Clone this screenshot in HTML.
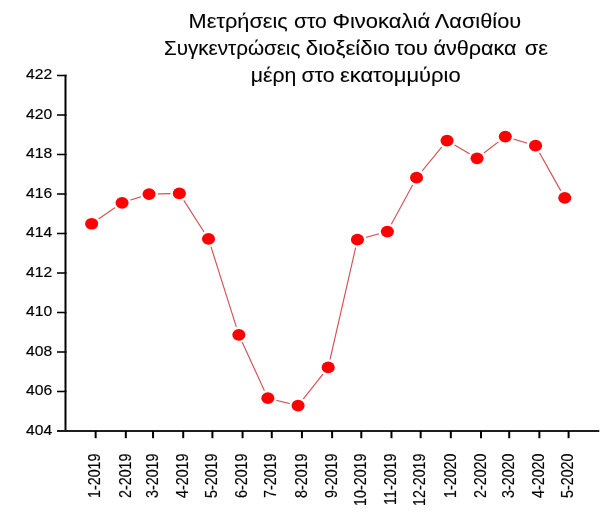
<!DOCTYPE html>
<html><head><meta charset="utf-8"><style>
html,body{margin:0;padding:0;background:#fff;}
svg{display:block;will-change:transform;}
text{font-family:"Liberation Sans",sans-serif;}
</style></head><body>
<svg width="602" height="513" viewBox="0 0 602 513">
<rect x="0" y="0" width="602" height="513" fill="#fff"/>

<g fill="#000" font-size="20" stroke="#000" stroke-width="0.1">
<text x="188.63" y="27.8" textLength="99.23" lengthAdjust="spacingAndGlyphs">Μετρήσεις</text>
<text x="293.94" y="27.8" textLength="32.92" lengthAdjust="spacingAndGlyphs">στο</text>
<text x="332.40" y="27.8" textLength="97.75" lengthAdjust="spacingAndGlyphs">Φινοκαλιά</text>
<text x="434.80" y="27.8" textLength="86.36" lengthAdjust="spacingAndGlyphs">Λασιθίου</text>
<text x="163.97" y="55.1" textLength="136.40" lengthAdjust="spacingAndGlyphs">Συγκεντρώσεις</text>
<text x="305.79" y="55.1" textLength="84.21" lengthAdjust="spacingAndGlyphs">διοξείδιο</text>
<text x="395.00" y="55.1" textLength="32.86" lengthAdjust="spacingAndGlyphs">του</text>
<text x="433.42" y="55.1" textLength="83.01" lengthAdjust="spacingAndGlyphs">άνθρακα</text>
<text x="524.81" y="55.1" textLength="23.17" lengthAdjust="spacingAndGlyphs">σε</text>
<text x="250.74" y="81.5" textLength="45.57" lengthAdjust="spacingAndGlyphs">μέρη</text>
<text x="301.53" y="81.5" textLength="33.13" lengthAdjust="spacingAndGlyphs">στο</text>
<text x="339.90" y="81.5" textLength="120.80" lengthAdjust="spacingAndGlyphs">εκατομμύριο</text>
</g>
<g stroke="#000" fill="none">
<line x1="65.5" y1="74.7" x2="65.5" y2="432" stroke-width="2"/>
<line x1="57" y1="431" x2="599.3" y2="431" stroke-width="2" stroke="#1e1e1e"/>
<line x1="57" y1="75.50" x2="66.50" y2="75.50" stroke-width="1.55"/>
<line x1="57" y1="115.00" x2="66.50" y2="115.00" stroke-width="1.55"/>
<line x1="57" y1="154.50" x2="66.50" y2="154.50" stroke-width="1.55"/>
<line x1="57" y1="194.00" x2="66.50" y2="194.00" stroke-width="1.55"/>
<line x1="57" y1="233.50" x2="66.50" y2="233.50" stroke-width="1.55"/>
<line x1="57" y1="273.00" x2="66.50" y2="273.00" stroke-width="1.55"/>
<line x1="57" y1="312.50" x2="66.50" y2="312.50" stroke-width="1.55"/>
<line x1="57" y1="352.00" x2="66.50" y2="352.00" stroke-width="1.55"/>
<line x1="57" y1="391.50" x2="66.50" y2="391.50" stroke-width="1.55"/>
<line x1="95.64" y1="431" x2="95.64" y2="438.2" stroke-width="2"/>
<line x1="125.81" y1="431" x2="125.81" y2="438.2" stroke-width="2"/>
<line x1="153.05" y1="431" x2="153.05" y2="438.2" stroke-width="2"/>
<line x1="183.22" y1="431" x2="183.22" y2="438.2" stroke-width="2"/>
<line x1="212.41" y1="431" x2="212.41" y2="438.2" stroke-width="2"/>
<line x1="242.58" y1="431" x2="242.58" y2="438.2" stroke-width="2"/>
<line x1="271.77" y1="431" x2="271.77" y2="438.2" stroke-width="2"/>
<line x1="301.94" y1="431" x2="301.94" y2="438.2" stroke-width="2"/>
<line x1="332.11" y1="431" x2="332.11" y2="438.2" stroke-width="2"/>
<line x1="361.30" y1="431" x2="361.30" y2="438.2" stroke-width="2"/>
<line x1="391.47" y1="431" x2="391.47" y2="438.2" stroke-width="2"/>
<line x1="420.66" y1="431" x2="420.66" y2="438.2" stroke-width="2"/>
<line x1="450.83" y1="431" x2="450.83" y2="438.2" stroke-width="2"/>
<line x1="481.00" y1="431" x2="481.00" y2="438.2" stroke-width="2"/>
<line x1="509.22" y1="431" x2="509.22" y2="438.2" stroke-width="2"/>
<line x1="539.38" y1="431" x2="539.38" y2="438.2" stroke-width="2"/>
<line x1="568.58" y1="431" x2="568.58" y2="438.2" stroke-width="2"/>
</g>
<g fill="#000" font-size="14" stroke="#000" stroke-width="0.15">
<text transform="translate(52.1 79.00) scale(1.12 1)" text-anchor="end">422</text>
<text transform="translate(52.1 118.50) scale(1.12 1)" text-anchor="end">420</text>
<text transform="translate(52.1 158.00) scale(1.12 1)" text-anchor="end">418</text>
<text transform="translate(52.1 197.50) scale(1.12 1)" text-anchor="end">416</text>
<text transform="translate(52.1 237.00) scale(1.12 1)" text-anchor="end">414</text>
<text transform="translate(52.1 276.50) scale(1.12 1)" text-anchor="end">412</text>
<text transform="translate(52.1 316.00) scale(1.12 1)" text-anchor="end">410</text>
<text transform="translate(52.1 355.50) scale(1.12 1)" text-anchor="end">408</text>
<text transform="translate(52.1 395.00) scale(1.12 1)" text-anchor="end">406</text>
<text transform="translate(52.1 434.50) scale(1.12 1)" text-anchor="end">404</text>
</g>
<g fill="#000" font-size="14.3" stroke="#000" stroke-width="0.15">
<text transform="translate(100.34 453.5) scale(1.11 1) rotate(-90)" text-anchor="end">1-2019</text>
<text transform="translate(130.51 453.5) scale(1.11 1) rotate(-90)" text-anchor="end">2-2019</text>
<text transform="translate(157.75 453.5) scale(1.11 1) rotate(-90)" text-anchor="end">3-2019</text>
<text transform="translate(187.92 453.5) scale(1.11 1) rotate(-90)" text-anchor="end">4-2019</text>
<text transform="translate(217.11 453.5) scale(1.11 1) rotate(-90)" text-anchor="end">5-2019</text>
<text transform="translate(247.28 453.5) scale(1.11 1) rotate(-90)" text-anchor="end">6-2019</text>
<text transform="translate(276.47 453.5) scale(1.11 1) rotate(-90)" text-anchor="end">7-2019</text>
<text transform="translate(306.64 453.5) scale(1.11 1) rotate(-90)" text-anchor="end">8-2019</text>
<text transform="translate(336.81 453.5) scale(1.11 1) rotate(-90)" text-anchor="end">9-2019</text>
<text transform="translate(366.00 453.5) scale(1.11 1) rotate(-90)" text-anchor="end">10-2019</text>
<text transform="translate(396.17 453.5) scale(1.11 1) rotate(-90)" text-anchor="end">11-2019</text>
<text transform="translate(425.36 453.5) scale(1.11 1) rotate(-90)" text-anchor="end">12-2019</text>
<text transform="translate(455.53 453.5) scale(1.11 1) rotate(-90)" text-anchor="end">1-2020</text>
<text transform="translate(485.70 453.5) scale(1.11 1) rotate(-90)" text-anchor="end">2-2020</text>
<text transform="translate(513.92 453.5) scale(1.11 1) rotate(-90)" text-anchor="end">3-2020</text>
<text transform="translate(544.08 453.5) scale(1.11 1) rotate(-90)" text-anchor="end">4-2020</text>
<text transform="translate(573.28 453.5) scale(1.11 1) rotate(-90)" text-anchor="end">5-2020</text>
</g>
<path d="M91.65 223.75 L122.05 202.80 L149.05 194.10 L179.35 193.40 L208.50 238.95 L238.85 334.80 L267.85 398.20 L298.10 405.60 L328.20 367.40 L357.45 239.70 L387.40 231.60 L416.55 177.70 L447.05 140.60 L477.05 158.30 L505.30 136.60 L535.55 145.70 L564.75 197.90" fill="none" stroke="#d25257" stroke-width="1.15"/>
<ellipse cx="91.65" cy="223.75" rx="8.9" ry="8.2" fill="#fff"/>
<ellipse cx="122.05" cy="202.8" rx="8.9" ry="8.2" fill="#fff"/>
<ellipse cx="149.05" cy="194.1" rx="8.9" ry="8.2" fill="#fff"/>
<ellipse cx="179.35" cy="193.4" rx="8.9" ry="8.2" fill="#fff"/>
<ellipse cx="208.5" cy="238.95" rx="8.9" ry="8.2" fill="#fff"/>
<ellipse cx="238.85" cy="334.8" rx="8.9" ry="8.2" fill="#fff"/>
<ellipse cx="267.85" cy="398.2" rx="8.9" ry="8.2" fill="#fff"/>
<ellipse cx="298.1" cy="405.6" rx="8.9" ry="8.2" fill="#fff"/>
<ellipse cx="328.2" cy="367.4" rx="8.9" ry="8.2" fill="#fff"/>
<ellipse cx="357.45" cy="239.7" rx="8.9" ry="8.2" fill="#fff"/>
<ellipse cx="387.4" cy="231.6" rx="8.9" ry="8.2" fill="#fff"/>
<ellipse cx="416.55" cy="177.7" rx="8.9" ry="8.2" fill="#fff"/>
<ellipse cx="447.05" cy="140.6" rx="8.9" ry="8.2" fill="#fff"/>
<ellipse cx="477.05" cy="158.3" rx="8.9" ry="8.2" fill="#fff"/>
<ellipse cx="505.3" cy="136.6" rx="8.9" ry="8.2" fill="#fff"/>
<ellipse cx="535.55" cy="145.7" rx="8.9" ry="8.2" fill="#fff"/>
<ellipse cx="564.75" cy="197.9" rx="8.9" ry="8.2" fill="#fff"/>
<ellipse cx="91.65" cy="223.75" rx="6.55" ry="5.85" fill="#ff0000"/>
<ellipse cx="122.05" cy="202.8" rx="6.55" ry="5.85" fill="#ff0000"/>
<ellipse cx="149.05" cy="194.1" rx="6.55" ry="5.85" fill="#ff0000"/>
<ellipse cx="179.35" cy="193.4" rx="6.55" ry="5.85" fill="#ff0000"/>
<ellipse cx="208.5" cy="238.95" rx="6.55" ry="5.85" fill="#ff0000"/>
<ellipse cx="238.85" cy="334.8" rx="6.55" ry="5.85" fill="#ff0000"/>
<ellipse cx="267.85" cy="398.2" rx="6.55" ry="5.85" fill="#ff0000"/>
<ellipse cx="298.1" cy="405.6" rx="6.55" ry="5.85" fill="#ff0000"/>
<ellipse cx="328.2" cy="367.4" rx="6.55" ry="5.85" fill="#ff0000"/>
<ellipse cx="357.45" cy="239.7" rx="6.55" ry="5.85" fill="#ff0000"/>
<ellipse cx="387.4" cy="231.6" rx="6.55" ry="5.85" fill="#ff0000"/>
<ellipse cx="416.55" cy="177.7" rx="6.55" ry="5.85" fill="#ff0000"/>
<ellipse cx="447.05" cy="140.6" rx="6.55" ry="5.85" fill="#ff0000"/>
<ellipse cx="477.05" cy="158.3" rx="6.55" ry="5.85" fill="#ff0000"/>
<ellipse cx="505.3" cy="136.6" rx="6.55" ry="5.85" fill="#ff0000"/>
<ellipse cx="535.55" cy="145.7" rx="6.55" ry="5.85" fill="#ff0000"/>
<ellipse cx="564.75" cy="197.9" rx="6.55" ry="5.85" fill="#ff0000"/>
</svg>
</body></html>
